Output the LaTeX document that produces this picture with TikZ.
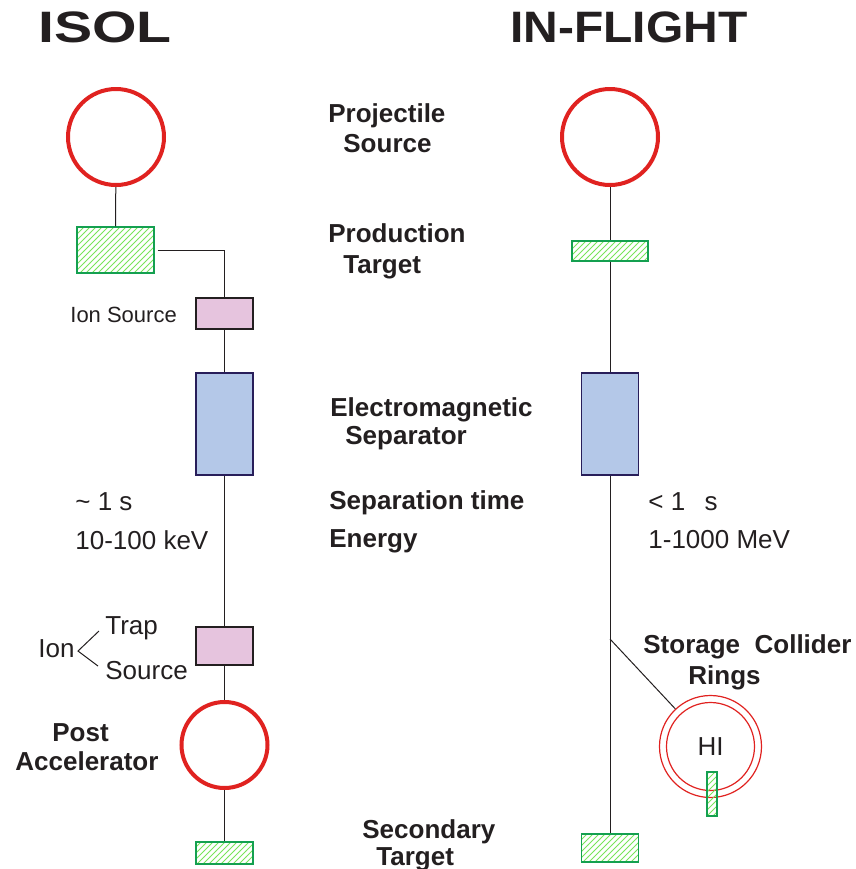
\documentclass[tikz,border=0pt]{standalone}
\usepackage{fontspec}
\setmainfont{Liberation Sans}
\usepackage{tikz}
\usetikzlibrary{patterns}

\definecolor{srcred}{RGB}{224,34,32}
\definecolor{tgtgreen}{RGB}{20,160,80}
\definecolor{hatchgreen}{RGB}{120,228,90}
\definecolor{ionpink}{RGB}{230,196,222}
\definecolor{sepblue}{RGB}{180,200,232}
\definecolor{sepnavy}{RGB}{40,30,90}
\definecolor{ink}{RGB}{35,31,32}

\begin{document}
\begin{tikzpicture}[x=0.5pt, y=-0.5pt,
  src/.style={draw=srcred, line width=2pt, circle, inner sep=0, minimum size=48pt},
  tgt/.style={draw=tgtgreen, line width=0.7pt, pattern=north east lines,
              pattern color=hatchgreen, inner sep=0},
  ion/.style={draw=ink, fill=ionpink, line width=1pt, inner sep=0,
              minimum width=28.5pt},
  sep/.style={draw=sepnavy, fill=sepblue, line width=0.8pt, inner sep=0,
              minimum width=28.5pt, minimum height=51pt},
  wire/.style={draw=ink, line width=0.5pt},
  ring/.style={draw=srcred, line width=0.6pt, circle, inner sep=0},
  head/.style={font=\fontsize{22}{24}\selectfont\bfseries, text=ink, inner sep=0},
  lbl/.style={font=\fontsize{13}{15}\selectfont\bfseries, text=ink, anchor=base west, inner sep=0},
  txt/.style={font=\fontsize{13}{15}\selectfont, text=ink, anchor=base west, inner sep=0}
]
\useasboundingbox (0,0) rectangle (856,869);

% titles
\node[head] (isol) at (105,27) {\scalebox{1.3}[1]{ISOL}};
\node[head] (infl) at (629,27) {\scalebox{1.09}[1]{IN-FLIGHT}};

% ISOL column
\node[src] (srcA) at (116,137) {};
\node[tgt, minimum width=38.5pt, minimum height=23pt] (tgtA) at (115.5,250) {};
\node[ion, minimum height=15.5pt] (isA) at (224.5,313.5) {};
\node[sep] (sepA) at (224.5,424) {};
\node[ion, minimum height=19pt] (isB) at (224.5,646) {};
\node[src, minimum size=43pt] (postA) at (224.5,745) {};
\node[tgt, minimum width=28.5pt, minimum height=11pt] (tgtB) at (224.5,853) {};

\draw[wire] (srcA) -- (tgtA);
\draw[wire] ([xshift=1.5pt]tgtA.east) -| (isA.north);
\draw[wire] (isA) -- (sepA);
\draw[wire] (sepA) -- (isB);
\draw[wire] (isB) -- (postA);
\draw[wire] (postA) -- (tgtB);

% IN-FLIGHT column
\node[src] (srcB) at (610,137) {};
\node[tgt, minimum width=38pt, minimum height=10pt] (tgtC) at (610,251) {};
\node[sep] (sepB) at (610,424) {};
\node[tgt, minimum width=28.5pt, minimum height=14pt] (tgtD) at (610,848) {};
\coordinate (brA) at (610,639);
\node[ring, minimum size=51pt, font=\fontsize{13}{15}\selectfont, text=ink] (stor) at (710.5,746.5) {HI};
\node[ring, minimum size=44pt] (storin) at (710.5,746.5) {};
\node[tgt, minimum width=5pt, minimum height=22pt] (tgtE) at (712,794) {};

\draw[wire] (srcB) -- (tgtC);
\draw[wire] (tgtC) -- (sepB);
\draw[wire] (sepB) -- (tgtD);
\draw[wire] (brA) -- (stor);

% middle labels
\node[lbl] (projA) at (328,122) {Projectile};
\node[lbl] (projB) at (343,152) {Source};
\node[lbl] (prodA) at (328,242) {Production};
\node[lbl] (prodB) at (343,273) {Target};
\node[lbl] (emsA) at (330,416) {Electromagnetic};
\node[lbl] (emsB) at (345,444) {Separator};
\node[lbl] (tsep) at (329,509) {Separation time};
\node[lbl] (ener) at (329,547) {Energy};
\node[lbl] (secA) at (362,838) {Secondary};
\node[lbl] (secB) at (376,865) {Target};
\node[lbl] (scrA) at (643,653) {Storage\ \ Collider};
\node[lbl] (scrB) at (688,684) {Rings};
\node[lbl] (postB) at (52,741) {Post};
\node[lbl] (postC) at (15,770) {Accelerator};

% ISOL values
\node[txt, font=\fontsize{11}{13}\selectfont] (isT) at (70,322) {Ion Source};
\node[txt] (timeA) at (75,510) {\textasciitilde\ 1 s};
\node[txt] (enerA) at (75,549) {10-100 keV};
\node[txt] (ionT) at (38,657) {Ion};
\node[txt] (trapT) at (105,634) {Trap};
\node[txt] (srcT) at (105,679) {Source};
\coordinate (brkT) at (99,631);
\coordinate (brk) at (78,651);
\coordinate (brkS) at (98,666);
\draw[wire] (brkT) -- (brk) -- (brkS);

% IN-FLIGHT values
\node[txt] (timeB) at (648,510) {<\ 1\hspace{0.75em}s};
\node[txt] (enerB) at (648,548) {1-1000 MeV};
\end{tikzpicture}
\end{document}
